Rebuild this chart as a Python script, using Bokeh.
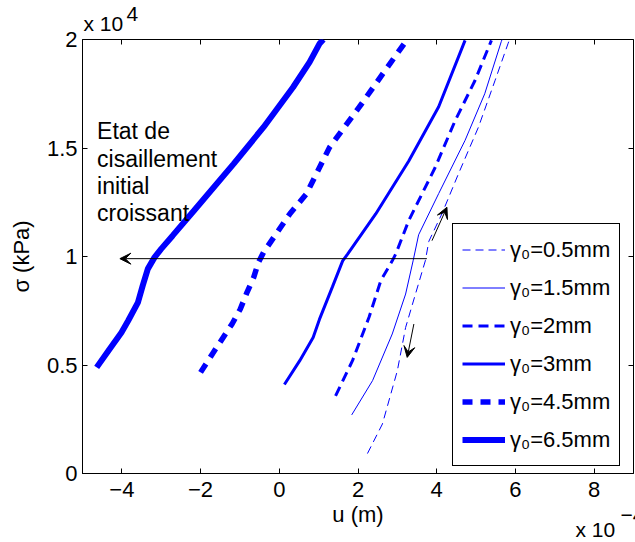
from bokeh.plotting import figure
from bokeh.models import Range1d, LinearAxis, FixedTicker, Label, Arrow, VeeHead, Legend, LegendItem, Title
from bokeh.embed import file_html
from bokeh.resources import INLINE

# Units: u in 1e-4 m, sigma in 1e4 kPa (as on the axes' multipliers)
u_05 = [2.24, 2.62, 3.00, 3.21, 3.46, 3.71, 3.80, 4.13, 4.55, 5.06, 5.48, 5.81, 5.85]
s_05 = [0.092, 0.228, 0.474, 0.673, 0.827, 0.98, 1.07, 1.196, 1.38, 1.596, 1.81, 1.98, 2.0]

u_15 = [1.84, 2.37, 2.87, 3.21, 3.40, 3.54, 4.05, 4.72, 5.22, 5.64, 5.66]
s_15 = [0.27, 0.428, 0.643, 0.827, 0.98, 1.10, 1.29, 1.535, 1.75, 1.99, 2.0]

u_2 = [1.43, 1.86, 2.28, 2.58, 2.87, 2.96, 3.29, 3.96, 4.47, 4.97, 5.39]
s_2 = [0.358, 0.52, 0.72, 0.889, 0.98, 1.012, 1.166, 1.41, 1.627, 1.81, 1.996]

u_3 = [0.13, 0.52, 0.86, 1.02, 1.35, 1.61, 1.74, 2.45, 3.29, 4.05, 4.72]
s_3 = [0.41, 0.52, 0.627, 0.71, 0.86, 0.98, 1.012, 1.196, 1.44, 1.69, 1.996]

u_45 = [-2.0, -1.70, -1.45, -1.20, -0.99, -0.82, -0.65, -0.53, -0.40, -0.11, 0.27, 0.69, 1.28, 2.03, 2.70, 3.21, 3.25]
s_45 = [0.466, 0.551, 0.620, 0.689, 0.758, 0.835, 0.904, 0.973, 1.019, 1.096, 1.197, 1.289, 1.504, 1.688, 1.86, 1.99, 2.0]

u_65 = [-4.64, -4.31, -4.01, -3.84, -3.59, -3.47, -3.34, -3.17, -3.0, -2.71, -2.17, -1.16, -0.40, 0.35, 0.77, 1.02, 1.12]
s_65 = [0.489, 0.574, 0.650, 0.704, 0.789, 0.866, 0.943, 0.996, 1.035, 1.096, 1.211, 1.427, 1.596, 1.78, 1.896, 1.98, 2.0]

labels = ["γ₀=0.5mm", "γ₀=1.5mm", "γ₀=2mm", "γ₀=3mm", "γ₀=4.5mm", "γ₀=6.5mm"]

x_ticks = [-4, -2, 0, 2, 4, 6, 8]
x_tick_labels = ["−4", "−2", "0", "2", "4", "6", "8"]
y_ticks = [0, 0.5, 1, 1.5, 2]
y_tick_labels = ["0", "0.5", "1", "1.5", "2"]
mult_base = "x 10"
x_exponent = "−4"
y_exponent = "4"

# annotation arrows (start x, start y, end x, end y)
arrow_h = (3.75, 0.99, -4.05, 0.99)
arrow_up = (3.88, 1.073, 4.26, 1.227)
arrow_down = (3.42, 0.689, 3.25, 0.535)

note_lines = ["Etat de", "cisaillement", "initial", "croissant"]
note_y = [1.577, 1.450, 1.327, 1.199]
note_x = -4.63

FONT = "Liberation Sans"
FS = "22px"
NFS = "23px"
MFS = "21px"
BLUE = "#0000ff"

p = figure(width=635, height=542, output_backend="svg", toolbar_location=None,
           x_range=Range1d(-5, 9), y_range=Range1d(0, 2),
           min_border_left=82, min_border_right=2, min_border_top=39, min_border_bottom=69,
           background_fill_color="white", border_fill_color="white")
p.grid.visible = False
p.outline_line_color = "black"
p.outline_line_width = 1

def style_axis(ax, ticks, overrides, show_labels=True):
    ax.ticker = FixedTicker(ticks=ticks)
    ax.major_label_overrides = dict(zip(ticks, overrides))
    ax.major_tick_in = 5
    ax.major_tick_out = 0
    ax.minor_tick_in = 0
    ax.minor_tick_out = 0
    ax.major_tick_line_color = "black"
    ax.axis_line_color = "black"
    ax.major_label_text_font = FONT
    ax.major_label_text_color = "black"
    if show_labels:
        ax.major_label_text_font_size = FS
    else:
        ax.major_label_text_font_size = "0px"
        ax.major_label_standoff = 0
        ax.axis_line_color = None

xa = p.xaxis[0]
style_axis(xa, x_ticks, x_tick_labels)
xa.major_label_standoff = 8
xa.axis_label = "u (m)"
xa.axis_label_text_font = FONT
xa.axis_label_text_font_size = FS
xa.axis_label_text_font_style = "normal"
xa.axis_label_text_color = "black"
xa.axis_label_standoff = 2

ya = p.yaxis[0]
style_axis(ya, y_ticks, y_tick_labels)
ya.major_label_standoff = 5
ya.axis_label = "σ (kPa)"
ya.axis_label_text_font = FONT
ya.axis_label_text_font_size = FS
ya.axis_label_text_font_style = "normal"
ya.axis_label_text_color = "black"
ya.axis_label_standoff = 10

top = LinearAxis()
style_axis(top, x_ticks, x_tick_labels, show_labels=False)
p.add_layout(top, "above")
right = LinearAxis()
style_axis(right, y_ticks, y_tick_labels, show_labels=False)
p.add_layout(right, "right")

def mult_title(text, offset, standoff, valign):
    return Title(text=text, align="left", offset=offset, standoff=standoff,
                 vertical_align=valign, text_font=FONT, text_font_size=MFS,
                 text_font_style="normal", text_color="black")

# y multiplier (above the frame): base inner, exponent outer and raised
p.add_layout(mult_title(mult_base, 1, 10, "bottom"), "above")
p.title = mult_title(y_exponent, 44, -32, "bottom")
# x multiplier (below the frame, bottom right)
p.add_layout(mult_title(mult_base, 493, -24, "top"), "below")
p.add_layout(mult_title(x_exponent, 538, -46, "top"), "below")

r05 = p.line(u_05, s_05, line_color=BLUE, line_width=1, line_dash="8 5")
r15 = p.line(u_15, s_15, line_color=BLUE, line_width=1)
r2 = p.line(u_2, s_2, line_color=BLUE, line_width=3, line_dash="10 6")
r3 = p.line(u_3, s_3, line_color=BLUE, line_width=3)
r45 = p.line(u_45, s_45, line_color=BLUE, line_width=5.5, line_dash="10 8")
r65 = p.line(u_65, s_65, line_color=BLUE, line_width=6)

legend = Legend(items=[LegendItem(label=l, renderers=[r]) for l, r in
                       zip(labels, [r05, r15, r2, r3, r45, r65])],
                location=(370, 7), glyph_width=43, glyph_height=33, label_height=33,
                label_standoff=5, padding=9, spacing=5, margin=0,
                border_line_color="black", border_line_width=1, border_line_alpha=1,
                background_fill_color="white", background_fill_alpha=1,
                label_text_font=FONT, label_text_font_size=FS, label_text_color="black")
p.add_layout(legend)

for (xs, ys, xe, ye) in [arrow_h, arrow_up, arrow_down]:
    p.add_layout(Arrow(end=VeeHead(size=11, line_color="black", fill_color="black", line_width=1),
                       x_start=xs, y_start=ys, x_end=xe, y_end=ye,
                       line_color="black", line_width=1))

for t, y in zip(note_lines, note_y):
    p.add_layout(Label(x=note_x, y=y, text=t, text_font=FONT, text_font_size=NFS,
                       text_baseline="alphabetic", text_color="black"))

open("out.html", "w").write(file_html(p, INLINE))
